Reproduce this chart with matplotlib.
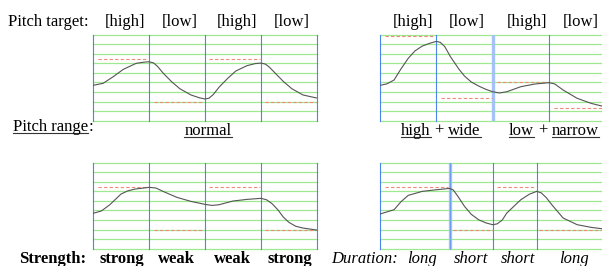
import matplotlib
matplotlib.use("Agg")
import matplotlib.pyplot as plt
from matplotlib.lines import Line2D

plt.rcParams['font.family'] = ['Liberation Serif', 'DejaVu Serif']

W, H = 602, 266

# --- данные ---
# кривые F0 (x в долях слога, y в делениях сетки 0..9)
normal_x = [0, 0.18, 0.36, 0.54, 0.77, 0.9, 1.0, 1.08, 1.15, 1.25, 1.4, 1.55, 1.75, 1.9, 2.0,
            2.07, 2.15, 2.25, 2.4, 2.55, 2.75, 2.9, 3.0, 3.08, 3.15, 3.25, 3.4, 3.55, 3.75, 4.0]
normal_y = [3.70, 3.91, 4.6, 5.37, 6.0, 6.12, 6.17, 6.05, 5.7, 5.0, 4.1, 3.35, 2.69, 2.4, 2.27,
            2.35, 2.75, 3.5, 4.4, 5.2, 5.76, 5.98, 6.03, 5.92, 5.6, 5.0, 4.1, 3.35, 2.69, 2.37]

range_x = [0, 0.12, 0.25, 0.37, 0.5, 0.62, 0.75, 0.88, 1.0, 1.07, 1.15, 1.25, 1.4, 1.5, 1.62,
           1.75, 1.88, 2.0, 2.12, 2.25, 2.5, 2.75, 3.0, 3.1, 3.25, 3.5, 3.75, 3.94]
range_y = [3.70, 3.85, 4.26, 5.4, 6.52, 7.3, 7.81, 8.1, 8.3, 8.2, 7.75, 6.7, 5.4, 4.67, 4.05,
           3.63, 3.28, 3.03, 2.9, 3.03, 3.56, 3.84, 3.98, 3.85, 3.21, 2.34, 1.81, 1.53]

strength_x = [0, 0.15, 0.3, 0.5, 0.62, 0.75, 1.0, 1.125, 1.25, 1.5, 1.75, 2.0, 2.125,
              2.25, 2.5, 2.75, 3.0, 3.1, 3.2, 3.3, 3.4, 3.5, 3.62, 3.75, 4.0]
strength_y = [3.7, 3.95, 4.6, 5.72, 6.05, 6.24, 6.42, 6.35, 6.0, 5.37, 4.95, 4.64, 4.53,
              4.6, 4.99, 5.16, 5.27, 5.12, 4.7, 4.08, 3.3, 2.75, 2.35, 2.16, 1.95]

duration_x = [0, 0.25, 0.37, 0.5, 0.75, 1.0, 1.237, 1.3, 1.38, 1.5, 1.62, 1.75, 1.88, 2.0,
              2.08, 2.17, 2.25, 2.5, 2.65, 2.78, 2.86, 2.95, 3.05, 3.25, 3.5, 3.75, 3.94]
duration_y = [3.63, 4.08, 4.9, 5.58, 6.0, 6.17, 6.31, 6.15, 5.5, 4.43, 3.6, 3.03, 2.7, 2.51,
              2.6, 3.0, 3.73, 5.13, 5.7, 6.0, 5.85, 5.35, 4.6, 3.21, 2.51, 2.23, 2.09]

# целевые уровни (x0, x1, y)
normal_targets = [(0.083, 0.964, 6.42), (1.083, 1.976, 1.92),
                  (2.08, 2.98, 6.42), (3.08, 3.98, 1.92)]
range_targets = [(0.08, 0.97, 8.86), (1.09, 1.98, 2.34),
                 (2.08, 2.98, 4.01), (3.09, 3.94, 1.29)]
strength_targets = normal_targets
duration_targets = [(0.08, 1.21, 6.42), (1.30, 2.0, 1.92),
                    (2.08, 2.75, 6.42), (2.83, 3.94, 1.92)]

even_bounds = [0, 1, 2, 3, 4]
duration_bounds = [0, 1.237, 2.01, 2.78]

target_labels = ["[high]", "[low]", "[high]", "[low]"]
strength_labels = ["strong", "weak", "weak", "strong"]
duration_labels = ["long", "short", "short", "long"]

GREEN = "#9fe88f"
BLUE = "#4a86e8"
LIGHTBLUE = "#a4c2f4"
RED = "#f08a78"
CURVE = "#555555"

fig = plt.figure(figsize=(W / 100, H / 100), dpi=100)


def panel(px0, px1, py0, py1, xmax, bounds, xs, ys, targets, light=None, light_core=False):
    ax = fig.add_axes([px0 / W, 1 - py1 / H, (px1 - px0) / W, (py1 - py0) / H])
    ax.set_xlim(0, xmax)
    ax.set_ylim(0, 9)
    ax.axis("off")
    for g in range(10):
        ax.axhline(g, color=GREEN, lw=0.9, clip_on=False, zorder=1)
    if light is not None:
        ax.axvline(light, color=LIGHTBLUE, lw=2.4, zorder=2)
    for b in bounds:
        if b == light and not light_core:
            continue
        ax.axvline(b, color=BLUE, lw=0.8, clip_on=False, zorder=3,
                   alpha=0.6 if b == light else 1)
    for x0, x1, y in targets:
        ax.plot([x0, x1], [y, y], color=RED, lw=0.8, dashes=(3, 2), zorder=4)
    ax.plot(xs, ys, color=CURVE, lw=0.8, zorder=5)
    return ax


panel(93, 317, 34.7, 120.7, 4, even_bounds, normal_x, normal_y, normal_targets)
panel(380, 602, 34.7, 120.7, 3.94, even_bounds[:-1], range_x, range_y, range_targets, light=2)
panel(93, 317, 162.7, 248.7, 4, even_bounds, strength_x, strength_y, strength_targets)
panel(380, 602, 162.7, 248.7, 3.94, duration_bounds, duration_x, duration_y, duration_targets,
      light=1.237, light_core=True)

FS = 12


def txt(x, y, s, ha="left", **kw):
    return fig.text(x / W, 1 - y / H, s, ha=ha, va="baseline", fontsize=FS, **kw)


fig.canvas.draw()
renderer = fig.canvas.get_renderer()


def underline(t, y):
    bb = t.get_window_extent(renderer)
    fig.add_artist(Line2D([bb.x0, bb.x1], [H - y, H - y], transform=None,
                          color="#333333", lw=0.8))


def pieces(x, y, parts):
    gap = FS * 100 / 72 * 0.25
    for i, (s, ul) in enumerate(parts):
        t = txt(x, y, s)
        bb = t.get_window_extent(renderer)
        if ul:
            underline(t, y + 2)
        x += bb.width + (gap if i + 1 < len(parts) and parts[i + 1][0] != ":" else 0)


# верхняя строка
txt(8, 26, "Pitch target:")
for cx, s in zip([125, 180, 237, 292], target_labels):
    txt(cx, 26, s, ha="center")
for cx, s in zip([413, 467, 527, 581], target_labels):
    txt(cx, 26, s, ha="center")

# средняя строка
pieces(13, 131, [("Pitch range", True), (":", False)])
t = txt(208, 135, "normal", ha="center")
underline(t, 137)
pieces(401, 135, [("high", True), ("+", False), ("wide", True)])
pieces(509, 135, [("low", True), ("+", False), ("narrow", True)])

# нижняя строка
txt(19, 263, "Strength:", fontweight="bold")
for cx, s in zip([122, 176, 232, 290], strength_labels):
    txt(cx, 263, s, ha="center", fontweight="bold")
txt(331, 263, "Duration:", style="italic")
for cx, s in zip([422, 471, 518, 574], duration_labels):
    txt(cx, 263, s, ha="center", style="italic")

fig.savefig("out.png", dpi=100)
